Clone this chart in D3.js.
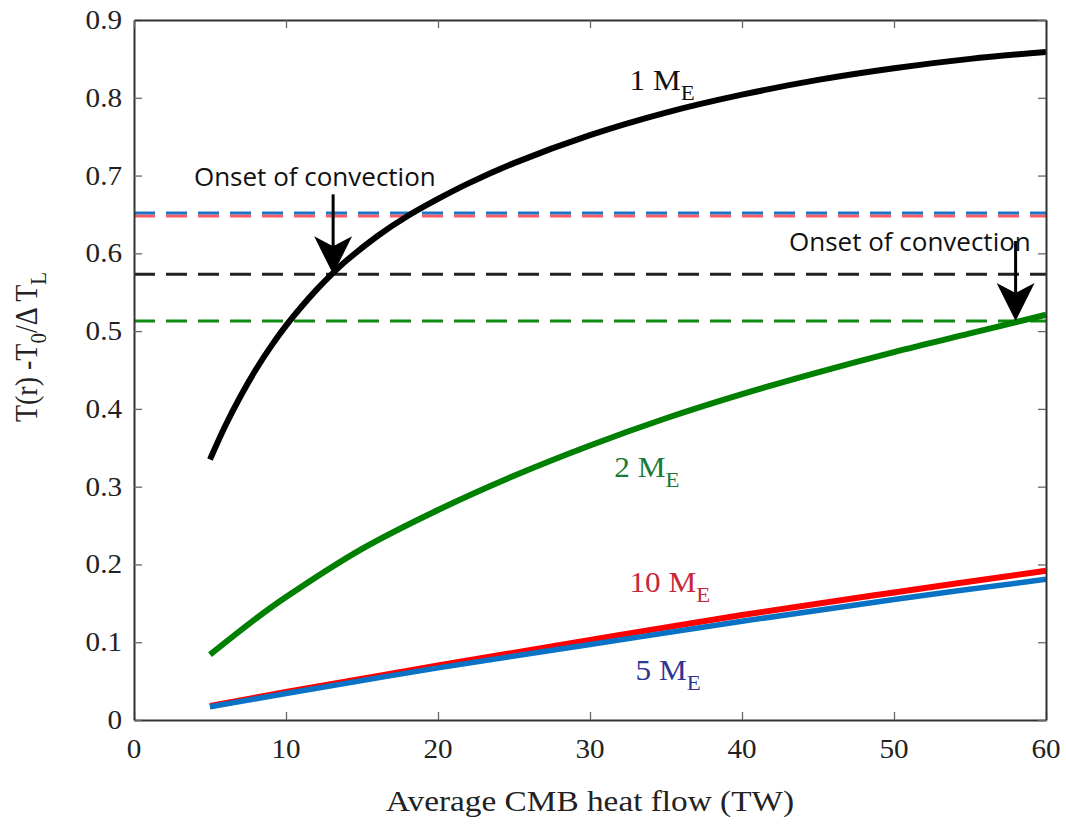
<!DOCTYPE html>
<html>
<head>
<meta charset="utf-8">
<script src="https://cdn.jsdelivr.net/npm/d3@7"></script>
<style>
  body { margin: 0; background: #fff; }
  svg { display: block; }
  .ticklab { font-family: "Liberation Serif", "Times New Roman", serif; font-size: 27px; fill: #222; }
</style>
</head>
<body>
<script>
// values
const xTicks = [0, 10, 20, 30, 40, 50, 60];
const yTicks = [0, 0.1, 0.2, 0.3, 0.4, 0.5, 0.6, 0.7, 0.8, 0.9];

const x1 = [5, 6, 7, 8, 9, 10, 11, 12, 13, 14, 16, 18, 20, 22, 25, 30, 35, 40, 45, 50, 55, 60];
const y1 = [0.335, 0.378, 0.416, 0.45, 0.48, 0.507, 0.531, 0.553, 0.573, 0.591, 0.622, 0.648,
            0.67, 0.69, 0.716, 0.752, 0.781, 0.804, 0.823, 0.838, 0.85, 0.859];

const x2 = [5, 8, 10, 15, 20, 25, 30, 35, 40, 45, 50, 55, 60];
const y2 = [0.084, 0.13, 0.158, 0.22, 0.27, 0.314, 0.353, 0.388, 0.419, 0.447, 0.473, 0.497, 0.521];

const x10 = [5, 10, 20, 30, 40, 50, 60];
const y10 = [0.018, 0.036, 0.07, 0.103, 0.135, 0.164, 0.192];
const x5 = [5, 10, 20, 30, 40, 50, 60];
const y5 = [0.017, 0.034, 0.067, 0.097, 0.127, 0.155, 0.181];

// onset-of-convection levels
const onsetLevels = [
  { v: 0.648, color: "#ff5a64" },  // 10 ME
  { v: 0.652, color: "#1f77c4" },  // 5 ME
  { v: 0.573, color: "#222222" },  // 1 ME
  { v: 0.513, color: "#108a10" }   // 2 ME
];

// arrow tips in data units
const arrows = [
  { x: 13.1, y: 0.573, label: "Onset of convection", lx: 11.9, ly: 0.687, anchor: "middle" },
  { x: 58.0, y: 0.513, label: "Onset of convection", lx: 59.0, ly: 0.603, anchor: "end" }
];

const W = 1066, H = 831;
const margin = { top: 20, right: 20, bottom: 111, left: 134 };
const width = W - margin.left - margin.right,
      height = H - margin.top - margin.bottom;

// serif text in the source is a touch wider than Liberation Serif
const stretch = 1.08;

const svg = d3.select("body").append("svg")
  .attr("width", W).attr("height", H);

const g = svg.append("g")
  .attr("transform", "translate(" + margin.left + "," + margin.top + ")");

const x = d3.scaleLinear().domain([0, 60]).range([0, width]);
const y = d3.scaleLinear().domain([0, 0.9]).range([height, 0]);

const serif = "'Liberation Serif', 'Times New Roman', serif";
const sans = "'Open Sans', 'Noto Sans', sans-serif";

// dashed onset lines
onsetLevels.forEach(d => {
  g.append("line")
    .attr("x1", x(0)).attr("x2", x(60))
    .attr("y1", y(d.v)).attr("y2", y(d.v))
    .attr("stroke", d.color)
    .attr("stroke-width", 3)
    .attr("stroke-dasharray", "21,11");
});

// curves
const line = d3.line()
  .x(d => x(d[0])).y(d => y(d[1]))
  .curve(d3.curveCatmullRom.alpha(0.5));

const series = [
  { xs: x10, ys: y10, color: "#ff0000", w: 6 },
  { xs: x5, ys: y5, color: "#0a72c4", w: 5.5 },
  { xs: x2, ys: y2, color: "#008000", w: 6 },
  { xs: x1, ys: y1, color: "#000000", w: 6 }
];
series.forEach(s => {
  g.append("path")
    .datum(s.xs.map((v, i) => [v, s.ys[i]]))
    .attr("fill", "none")
    .attr("stroke", s.color)
    .attr("stroke-width", s.w)
    .attr("d", line);
});

// axes with inward ticks (box style), labels drawn separately
const tickLen = 8;
const axB = g.append("g").attr("transform", "translate(0," + height + ")")
  .call(d3.axisBottom(x).tickValues(xTicks).tickSizeInner(-tickLen).tickSizeOuter(0).tickFormat(""));
const axL = g.append("g")
  .call(d3.axisLeft(y).tickValues(yTicks).tickSizeInner(-tickLen).tickSizeOuter(0).tickFormat(""));
const axT = g.append("g")
  .call(d3.axisTop(x).tickValues(xTicks).tickSizeInner(-tickLen).tickSizeOuter(0).tickFormat(""));
const axR = g.append("g").attr("transform", "translate(" + width + ",0)")
  .call(d3.axisRight(y).tickValues(yTicks).tickSizeInner(-tickLen).tickSizeOuter(0).tickFormat(""));

[axB, axL, axT, axR].forEach(a => {
  a.select(".domain").attr("stroke", "#333").attr("stroke-width", 2);
  a.selectAll(".tick line").attr("stroke", "#666").attr("stroke-width", 1.3);
});

g.selectAll(".xlab").data(xTicks).join("text")
  .attr("class", "ticklab")
  .attr("transform", d => `translate(${x(d)},${height + 38}) scale(${stretch},1)`)
  .attr("text-anchor", "middle")
  .text(d => d3.format("d")(d));

g.selectAll(".ylab").data(yTicks).join("text")
  .attr("class", "ticklab")
  .attr("transform", d => `translate(-12,${y(d) + 9}) scale(${stretch},1)`)
  .attr("text-anchor", "end")
  .text(d => d === 0 ? "0" : d3.format(".1f")(d));

// arrows
arrows.forEach(a => {
  const tx = x(a.x), ty = y(a.y);
  g.append("line")
    .attr("x1", tx).attr("x2", tx)
    .attr("y1", ty - 80).attr("y2", ty - 25)
    .attr("stroke", "#000").attr("stroke-width", 3);
  // barbed head
  g.append("path")
    .attr("d", `M${tx},${ty} L${tx - 19},${ty - 38} L${tx},${ty - 28} L${tx + 19},${ty - 38} Z`)
    .attr("fill", "#000");
  g.append("text")
    .attr("x", x(a.lx)).attr("y", y(a.ly))
    .attr("text-anchor", a.anchor)
    .attr("font-family", sans)
    .attr("font-size", 26)
    .attr("fill", "#111")
    .text(a.label);
});

// curve labels
const curveLabels = [
  { t: "1", x: 32.6, y: 0.81, color: "#111" },
  { t: "2", x: 31.6, y: 0.313, color: "#1a7a3a" },
  { t: "10", x: 32.6, y: 0.164, color: "#c8283a" },
  { t: "5", x: 33.0, y: 0.052, color: "#2e3592" }
];
curveLabels.forEach(c => {
  const t = g.append("text")
    .attr("transform", `translate(${x(c.x)},${y(c.y)}) scale(1.04,1)`)
    .attr("font-family", serif)
    .attr("font-size", 30)
    .attr("fill", c.color);
  t.append("tspan").text(c.t + " M");
  t.append("tspan").attr("dy", 10).attr("font-size", 22).text("E");
});

// x axis title
svg.append("text")
  .attr("transform", `translate(${margin.left + width / 2},811) scale(1.11,1)`)
  .attr("text-anchor", "middle")
  .attr("font-family", serif)
  .attr("font-size", 30)
  .attr("fill", "#222")
  .text("Average CMB heat flow (TW)");

// y axis title
const yl = svg.append("text")
  .attr("transform", `translate(37,347) rotate(-90) scale(1,1.12)`)
  .attr("text-anchor", "middle")
  .attr("font-family", serif)
  .attr("font-size", 28)
  .attr("fill", "#222");
yl.append("tspan").text("T(r) -T");
yl.append("tspan").attr("dy", 8).attr("font-size", 21).text("0");
yl.append("tspan").attr("dy", -8).text("/\u0394 T");
yl.append("tspan").attr("dy", 8).attr("font-size", 21).text("L");
</script>
</body>
</html>
